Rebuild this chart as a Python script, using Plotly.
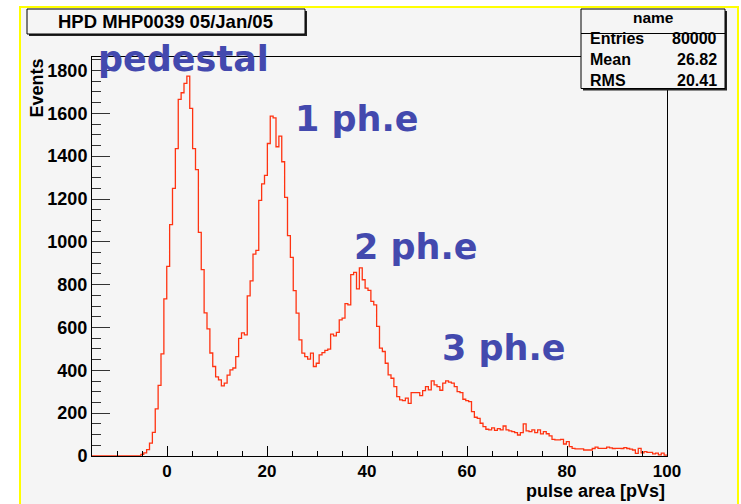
import numpy as np
import plotly.graph_objects as go

# ---------------- data ----------------
bin_lo, bin_hi, n_bins = -15.0, 100.0, 200
counts = [
    0, 0, 0, 0, 0, 0, 0, 0, 0, 0, 0, 0, 0, 0, 0, 0, 0,
    8, 15, 30, 60, 110, 220, 330, 477, 734, 885,
    1080, 1250, 1435, 1665, 1696, 1740, 1774, 1623, 1435, 1337,
    1044, 870, 668, 594, 481, 418, 369, 355, 327, 340,
    378, 402, 411, 464, 549, 575, 566, 748, 818, 943,
    960, 1194, 1271, 1310, 1459, 1587, 1579, 1444, 1494, 1374,
    1208, 1029, 927, 772, 667, 542, 480, 464, 452, 480,
    418, 433, 472, 483, 493, 499, 569, 561, 577, 636,
    644, 711, 706, 847, 857, 780, 878, 823, 784, 773,
    722, 706, 605, 504, 488, 433, 379, 363, 324, 277,
    262, 259, 270, 246, 296, 296, 296, 282, 305, 324,
    309, 351, 332, 324, 307, 340, 351, 345, 340, 324,
    301, 296, 265, 259, 254, 207, 181, 176, 153, 137,
    125, 122, 131, 120, 128, 122, 140, 122, 117, 114,
    109, 98, 109, 150, 117, 114, 122, 109, 122, 103,
    114, 104, 94, 78, 75, 75, 78, 56, 67, 44,
    36, 33, 33, 33, 28, 28, 28, 35, 41, 36,
    36, 36, 41, 38, 35, 36, 36, 35, 39, 35,
    32, 28, 12, 36, 15, 20, 17, 17, 10, 13,
    5, 13, 4,
]
assert len(counts) == n_bins
edges = np.linspace(bin_lo, bin_hi, n_bins + 1)

x_range = [-15, 100]
y_range = [0, 1863]
title_text = "HPD MHP0039 05/Jan/05"
x_title = "pulse area [pVs]"
y_title = "Events"
stats_name = "name"
stats_labels = ["Entries", "Mean", "RMS"]
stats_values = ["80000", "26.82", "20.41"]
peak_labels = ["pedestal", "1 ph.e", "2 ph.e", "3 ph.e"]

# ---------------- layout helpers (pixels -> paper) ----------------
W, H = 741, 504
L, R, T, B = 92, 667, 57, 456


def px(x):
    return (x - L) / (R - L)


def py(y):
    return (B - y) / (B - T)


BG = "#f5f5f5"
FONT = "Liberation Sans, Arial, Helvetica, sans-serif"
HAND = "Comic Sans MS, DejaVu Sans, sans-serif"
BLUE = "#4349ae"

fig = go.Figure()
fig.add_trace(go.Scatter(
    x=edges, y=list(counts) + [counts[-1]],
    mode="lines", line=dict(shape="hv", color="#ff3311", width=1.3),
    hoverinfo="skip", showlegend=False,
))

shapes = [
    # pad background with yellow highlight border
    dict(type="rect", xref="paper", yref="paper", layer="below",
         x0=px(20), x1=px(738), y0=py(515), y1=py(7),
         fillcolor=BG, line=dict(color="#ffff00", width=2)),
    # title box shadow + box
    dict(type="rect", xref="paper", yref="paper", layer="above",
         x0=px(29), x1=px(307), y0=py(36), y1=py(11),
         fillcolor="#222222", line=dict(width=0)),
    dict(type="rect", xref="paper", yref="paper", layer="above",
         x0=px(27), x1=px(305), y0=py(34), y1=py(9),
         fillcolor=BG, line=dict(color="black", width=1)),
    # stats box shadow + box
    dict(type="rect", xref="paper", yref="paper", layer="above",
         x0=px(583), x1=px(727), y0=py(90.5), y1=py(11),
         fillcolor="#222222", line=dict(width=0)),
    dict(type="rect", xref="paper", yref="paper", layer="above",
         x0=px(581), x1=px(725), y0=py(88.5), y1=py(9),
         fillcolor=BG, line=dict(color="black", width=1)),
    dict(type="line", xref="paper", yref="paper", layer="above",
         x0=px(581), x1=px(725), y0=py(33.5), y1=py(33.5),
         line=dict(color="black", width=1)),
]

annotations = [
    dict(text="<b>%s</b>" % title_text, x=px(165), y=py(21.5),
         font=dict(family=FONT, size=18.5, color="black")),
    dict(text="<b>%s</b>" % stats_name, x=px(653), y=py(18),
         font=dict(family=FONT, size=15.5, color="black")),
    dict(text="<b>%s</b>" % y_title, x=px(36), y=py(57), yanchor="top",
         textangle=-90, font=dict(family=FONT, size=18, color="black")),
    dict(text="<b>%s</b>" % x_title, x=px(667), y=py(491), xanchor="right",
         font=dict(family=FONT, size=18, color="black")),
]
for lab, val, yy in zip(stats_labels, stats_values, [39, 59.5, 80]):
    annotations.append(dict(text="<b>%s</b>" % lab, x=px(588), y=py(yy), xanchor="left",
                            font=dict(family=FONT, size=16, color="black")))
    annotations.append(dict(text="<b>%s</b>" % val, x=px(719), y=py(yy), xanchor="right",
                            font=dict(family=FONT, size=16, color="black")))
for lab, (cx, cy) in zip(peak_labels, [(183, 59), (357, 119), (416, 247), (504, 348)]):
    annotations.append(dict(text="<b>%s</b>" % lab, x=px(cx), y=py(cy),
                            font=dict(family=HAND, size=35, color=BLUE)))
for a in annotations:
    a.update(xref="paper", yref="paper", showarrow=False)
    a.setdefault("xanchor", "center")
    a.setdefault("yanchor", "middle")

fig.update_layout(
    width=W, height=H, autosize=False,
    margin=dict(l=L, r=W - R, t=T, b=H - B, pad=0),
    paper_bgcolor="white", plot_bgcolor="rgba(0,0,0,0)",
    shapes=shapes, annotations=annotations, showlegend=False,
    xaxis=dict(range=x_range, tickmode="linear", tick0=0, dtick=20,
               ticks="inside", ticklen=10, tickwidth=1, tickcolor="black",
               minor=dict(tick0=0, dtick=5, ticks="inside", ticklen=5, tickcolor="black"),
               showline=True, linecolor="black", linewidth=1, mirror=True,
               showgrid=False, zeroline=False,
               tickfont=dict(family=FONT, size=17, color="black", weight="bold")),
    yaxis=dict(range=y_range, tickmode="linear", tick0=0, dtick=200,
               ticks="inside", ticklen=18, tickwidth=1, tickcolor="#333333",
               minor=dict(tick0=0, dtick=50, ticks="inside", ticklen=9, tickcolor="#333333"),
               showline=True, linecolor="black", linewidth=1, mirror=True,
               showgrid=False, zeroline=False,
               tickfont=dict(family=FONT, size=18, color="black", weight="bold")),
)

fig.write_html("out.html")
